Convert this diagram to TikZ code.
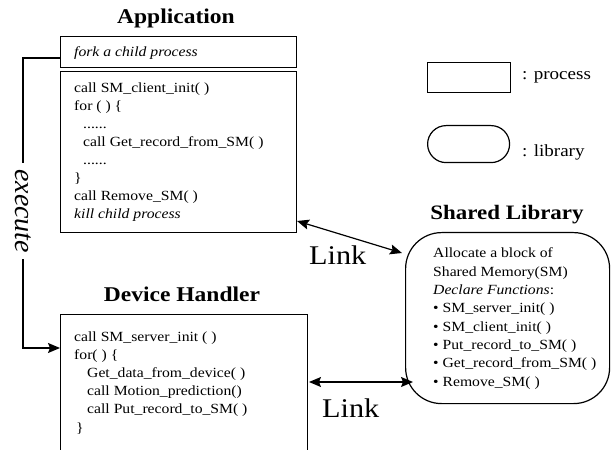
\documentclass[tikz,border=0pt]{standalone}
\usepackage{fontspec}
\setmainfont{Liberation Serif}[FakeStretch=1.12]
\newfontfamily\execfont{Liberation Serif}
\usetikzlibrary{arrows.meta}
\begin{document}
\begin{tikzpicture}[x=1bp,y=-1bp,
  box/.style={draw, line width=1.2bp, inner sep=0, anchor=north west},
  txt/.style={anchor=base west, inner sep=0, font=\fontsize{14bp}{17bp}\selectfont},
  ttl/.style={anchor=base, inner sep=0, font=\fontsize{21bp}{24bp}\selectfont\bfseries},
  lnk/.style={anchor=base west, inner sep=0, font=\fontsize{27bp}{30bp}\selectfont},
  leg/.style={anchor=base west, inner sep=0, font=\fontsize{17bp}{20bp}\selectfont},
  tip/.style={Stealth[length=12bp,width=10bp,inset=2bp]},
  arr/.style={line width=1.2bp, -{Stealth[length=12bp,width=10bp,inset=2bp]}},
  darr/.style={line width=1.2bp, {Stealth[length=12bp,width=10bp,inset=2bp]}-{Stealth[length=12bp,width=10bp,inset=2bp]}}
]
\useasboundingbox (0,0) rectangle (612,450);
\clip (0,0) rectangle (612,450);

% boxes
\node[box, minimum width=236bp, minimum height=31bp] (fork) at (60,36) {};
\node[box, minimum width=236bp, minimum height=161bp] (app) at (60,71) {};
\node[box, minimum width=247bp, minimum height=150bp] (dev) at (60,314) {};
\node[box, minimum width=204bp, minimum height=171bp, rounded corners=36bp] (shl) at (405,232) {};
\node[box, minimum width=83bp, minimum height=30bp] (legp) at (427,62) {};
\node[box, minimum width=82bp, minimum height=37bp, rounded corners=18.5bp] (legl) at (427,125) {};

% titles
\node[ttl] (tapp) at (176,24) {Application};
\node[ttl] (tdev) at (182,301.5) {Device Handler};
\node[ttl, font=\fontsize{20.5bp}{24bp}\selectfont\bfseries] (tshl) at (507,220) {Shared Library};

% legend text
\node[leg] (lp) at (522,79.3) {: process};
\node[leg] (ll) at (522,157) {: library};

% application text
\node[txt] (a0) at (74,57) {\textit{fork a child process}};
\node[txt] (a1) at (74,92.5) {call SM\_client\_init( )};
\node[txt] (a2) at (74,110.6) {for ( ) \{};
\node[txt] (a3) at (83,128.7) {......};
\node[txt] (a4) at (83,146.8) {call Get\_record\_from\_SM( )};
\node[txt] (a5) at (83,164.9) {......};
\node[txt] (a6) at (74,183) {\}};
\node[txt] (a7) at (74,201) {call Remove\_SM( )};
\node[txt] (a8) at (74,219) {\textit{kill child process}};

% device handler text
\node[txt] (d1) at (74,341) {call SM\_server\_init ( )};
\node[txt] (d2) at (74,359.2) {for( ) \{};
\node[txt] (d3) at (87,377.4) {Get\_data\_from\_device( )};
\node[txt] (d4) at (87,395.6) {call Motion\_prediction()};
\node[txt] (d5) at (87,413.8) {call Put\_record\_to\_SM( )};
\node[txt] (d6) at (76,432) {\}};

% shared library text
\node[txt] (s1) at (433,258) {Allocate a block of};
\node[txt] (s2) at (433,276.3) {Shared Memory(SM)};
\node[txt] (s3) at (433,294.6) {\textit{Declare Functions}:};
\node[txt] (s4) at (433,312.9) {\textbullet{} SM\_server\_init( )};
\node[txt] (s5) at (433,331.2) {\textbullet{} SM\_client\_init( )};
\node[txt] (s6) at (433,349.5) {\textbullet{} Put\_record\_to\_SM( )};
\node[txt] (s7) at (433,367.8) {\textbullet{} Get\_record\_from\_SM( )};
\node[txt] (s8) at (433,386) {\textbullet{} Remove\_SM( )};

% execute connector
\coordinate (e1) at (23,58);
\coordinate (e2) at (23,348);
\draw[arr] (fork.west |- e1) -- (e1) --
  node[pos=0.528, fill=white, rotate=-90, inner sep=6bp,
       font=\execfont\itshape\fontsize{28bp}{30bp}\selectfont] (exec) {execute}
  (e2) -- (dev.west |- e2);

% link connectors
\coordinate (la) at (297,221);
\coordinate (lb) at (402,253);
\coordinate (lc) at (309,382);
\coordinate (ld) at (413,382);
\draw[darr] (la) -- (lb);
\draw[darr] (lc) -- (ld);
\node[lnk] (k1) at (309,265) {Link};
\node[lnk] (k2) at (322,417) {Link};
\end{tikzpicture}
\end{document}
